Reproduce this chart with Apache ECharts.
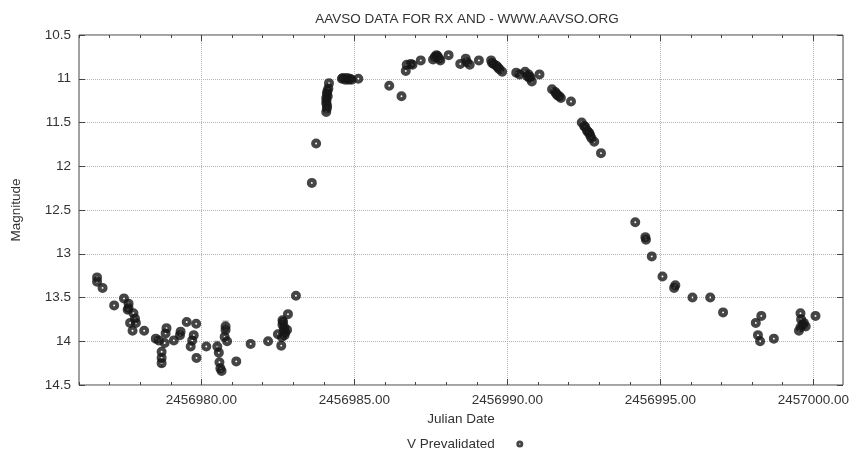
<!DOCTYPE html>
<html>
<head>
<meta charset="utf-8">
<script src="https://cdn.jsdelivr.net/npm/echarts@6/dist/echarts.min.js"></script>
<style>
	html, body { margin: 0; padding: 0; background: #fff; }
	#RxAndChart { width: 852px; height: 450px; }
</style>
</head>
<body>
<div id="RxAndChart"></div>
<script>
	// Julian date of each V observation
	var jd = [
		2456976.59, 2456976.59, 2456976.77, 2456977.15, 2456977.47, 2456977.62, 2456977.62, 2456977.59,
		2456977.78, 2456977.83, 2456977.67, 2456977.86, 2456977.75, 2456978.13, 2456978.51, 2456978.61,
		2456978.80, 2456978.86, 2456978.83, 2456978.70, 2456978.70, 2456978.70, 2456979.10, 2456979.32,
		2456979.30, 2456979.52, 2456979.83, 2456979.75, 2456979.70, 2456979.65, 2456979.84, 2456980.16,
		2456980.52, 2456980.57, 2456980.79, 2456980.79, 2456980.76, 2456980.84, 2456980.59, 2456980.62,
		2456980.66, 2456981.14, 2456981.61, 2456982.18, 2456982.61, 2456982.50, 2456982.65, 2456982.65,
		2456982.69, 2456982.72, 2456982.63, 2456982.83, 2456983.09, 2456982.80, 2456982.67, 2456982.71,
		2456982.74,
		2456983.61, 2456983.75, 2456984.17, 2456984.15, 2456984.10, 2456984.08, 2456984.08, 2456984.10,
		2456984.08, 2456984.12, 2456984.09, 2456984.11, 2456984.13,
		2456984.59, 2456984.70, 2456984.80, 2456984.91, 2456985.13, 2456984.63, 2456984.76, 2456984.86,
		2456986.14, 2456986.54, 2456986.71, 2456986.68, 2456986.84, 2456986.90, 2456987.17, 2456987.63,
		2456987.68, 2456987.77, 2456987.57, 2456987.81, 2456987.69, 2456987.72, 2456988.08, 2456988.46,
		2456988.64, 2456988.68, 2456988.77, 2456989.07, 2456989.47, 2456989.55, 2456989.64, 2456989.74,
		2456989.83, 2456989.50, 2456989.69,
		2456990.29, 2456990.40, 2456990.58, 2456990.65, 2456990.72, 2456990.80, 2456990.69, 2456990.75,
		2456991.05, 2456991.46, 2456991.56, 2456991.64, 2456991.75, 2456991.60, 2456991.70, 2456992.08,
		2456992.43, 2456992.51, 2456992.60, 2456992.68, 2456992.75, 2456992.84, 2456992.54, 2456992.64,
		2456992.71, 2456993.06,
		2456994.18, 2456994.51, 2456994.53, 2456994.72, 2456995.07, 2456995.49, 2456995.45, 2456996.05,
		2456996.63, 2456997.05, 2456998.12, 2456998.30, 2456998.19, 2456998.26, 2456998.71, 2456999.58,
		2456999.60, 2456999.53, 2456999.58, 2456999.66, 2456999.75, 2456999.69, 2457000.07
	];
	// V magnitude, same order as jd
	var mag = [
		13.27, 13.32, 13.39, 13.59, 13.51, 13.57, 13.62, 13.64,
		13.68, 13.74, 13.79, 13.79, 13.88, 13.88, 13.97, 13.99,
		14.02, 13.85, 13.91, 14.12, 14.19, 14.25, 13.99, 13.89,
		13.93, 13.78, 13.80, 13.93, 13.99, 14.06, 14.19, 14.06,
		14.06, 14.13, 13.83, 13.87, 13.95, 14.00, 14.24, 14.31,
		14.34, 14.23, 14.03, 14.00, 14.05, 13.92, 13.76, 13.81,
		13.87, 13.93, 13.95, 13.69, 13.48, 13.87, 13.78, 13.84,
		13.90,
		12.19, 11.74, 11.05, 11.11, 11.17, 11.22, 11.28, 11.34,
		11.38, 11.14, 11.25, 11.31, 11.20,
		11.00, 11.01, 11.01, 11.01, 11.00, 10.99, 10.99, 11.00,
		11.08, 11.20, 10.84, 10.91, 10.83, 10.84, 10.79, 10.75,
		10.73, 10.77, 10.78, 10.79, 10.75, 10.74, 10.73, 10.83,
		10.77, 10.81, 10.84, 10.79, 10.79, 10.83, 10.85, 10.89,
		10.92, 10.82, 10.87,
		10.93, 10.95, 10.92, 10.97, 10.99, 11.03, 10.95, 10.98,
		10.95, 11.12, 11.15, 11.19, 11.22, 11.17, 11.20, 11.26,
		11.50, 11.54, 11.59, 11.62, 11.68, 11.72, 11.55, 11.61,
		11.65, 11.85,
		12.64, 12.81, 12.84, 13.03, 13.26, 13.36, 13.39, 13.50,
		13.50, 13.67, 13.79, 13.71, 13.93, 14.00, 13.97, 13.68,
		13.75, 13.88, 13.84, 13.81, 13.83, 13.79, 13.71
	];
	// the few visible error bars
	var errJd = [2456978.70, 2456980.79, 2456980.52];
	var errLow = [14.21, 13.77, 14.00];
	var errHigh = [14.29, 13.89, 14.12];

	var xMajor = [2456980, 2456985, 2456990, 2456995, 2457000];
	var xMinor = [];
	for (var d = 2456976; d <= 2457000; d++) { xMinor.push(d); }

	var xMin = 2456976.0, xMax = 2457000.97;
	var yMin = 10.5, yMax = 14.5;

	var points = [];
	for (var i = 0; i < jd.length; i++) { points.push([jd[i], mag[i]]); }
	var errData = [];
	for (var k = 0; k < errJd.length; k++) { errData.push([errJd[k], errLow[k], errHigh[k]]); }

	// black disc with a small white centre
	var dotSymbol = 'path://M0,-10A10,10 0 1,1 0,10A10,10 0 1,1 0,-10ZM0,-1.9A1.9,1.9 0 1,0 0,1.9A1.9,1.9 0 1,0 0,-1.9Z';

	var gridLine = { show: true, lineStyle: { color: '#b4b4b4', type: 'dotted', width: 1 } };
	var fs = 13.5;

	var RxAndChart_option = {
		animation: false,
		textStyle: { fontFamily: 'Liberation Sans', color: '#333' },
		title: {
			text: 'AAVSO DATA FOR RX AND - WWW.AAVSO.ORG',
			left: 462, textAlign: 'center', top: 7,
			textStyle: { fontSize: fs, fontWeight: 'normal', color: '#333', fontFamily: 'Liberation Sans' }
		},
		legend: {
			data: ['V Prevalidated'],
			align: 'right',
			left: 402, top: 432,
			itemWidth: 40, itemHeight: 7,
			textStyle: { fontSize: fs, color: '#333', fontFamily: 'Liberation Sans' }
		},
		grid: {
			left: 79, right: 8, top: 35, bottom: 65,
			show: true, borderColor: '#444', borderWidth: 1
		},
		xAxis: [
			{
				type: 'value', position: 'bottom', min: xMin, max: xMax,
				name: 'Julian Date', nameLocation: 'middle', nameGap: 25,
				nameTextStyle: { fontSize: fs, color: '#333' },
				axisLine: { show: false },
				axisTick: { inside: true, length: 6, customValues: xMajor, lineStyle: { color: '#444' } },
				axisLabel: {
					customValues: xMajor, margin: 8, fontSize: fs, color: '#333',
					formatter: function (v) { return v.toFixed(2); }
				},
				splitLine: gridLine
			},
			{
				type: 'value', position: 'bottom', min: xMin, max: xMax,
				axisLine: { show: false },
				axisTick: { inside: true, length: 3, customValues: xMinor, lineStyle: { color: '#444' } },
				axisLabel: { show: false },
				splitLine: { show: false }
			},
			{
				type: 'value', position: 'top', min: xMin, max: xMax,
				axisLine: { show: false },
				axisTick: { inside: true, length: 6, customValues: xMajor, lineStyle: { color: '#444' } },
				axisLabel: { show: false },
				splitLine: { show: false }
			},
			{
				type: 'value', position: 'top', min: xMin, max: xMax,
				axisLine: { show: false },
				axisTick: { inside: true, length: 3, customValues: xMinor, lineStyle: { color: '#444' } },
				axisLabel: { show: false },
				splitLine: { show: false }
			}
		],
		yAxis: [
			{
				type: 'value', position: 'left', inverse: true,
				min: yMin, max: yMax, interval: 0.5,
				name: 'Magnitude', nameLocation: 'middle', nameRotate: 90, nameGap: 56,
				nameTextStyle: { fontSize: fs, color: '#333' },
				axisLine: { show: false },
				axisTick: { inside: true, length: 6, lineStyle: { color: '#444' } },
				axisLabel: { margin: 8, fontSize: fs, color: '#333' },
				splitLine: gridLine
			},
			{
				type: 'value', position: 'right', inverse: true,
				min: yMin, max: yMax, interval: 0.5,
				axisLine: { show: false },
				axisTick: { inside: true, length: 6, lineStyle: { color: '#444' } },
				axisLabel: { show: false },
				splitLine: { show: false }
			}
		],
		series: [
			{
				name: 'errors',
				type: 'custom',
				xAxisIndex: 0, yAxisIndex: 0,
				z: 1,
				silent: true,
				renderItem: function (params, api) {
					var x = api.value(0);
					var lo = api.coord([x, api.value(1)]);
					var hi = api.coord([x, api.value(2)]);
					var w = 3;
					var st = { stroke: '#8a8a8a', lineWidth: 1 };
					return {
						type: 'group',
						children: [
							{ type: 'line', shape: { x1: lo[0], y1: lo[1], x2: hi[0], y2: hi[1] }, style: st },
							{ type: 'line', shape: { x1: lo[0] - w, y1: lo[1], x2: lo[0] + w, y2: lo[1] }, style: st },
							{ type: 'line', shape: { x1: hi[0] - w, y1: hi[1], x2: hi[0] + w, y2: hi[1] }, style: st }
						]
					};
				},
				data: errData
			},
			{
				name: 'V Prevalidated',
				type: 'scatter',
				xAxisIndex: 0, yAxisIndex: 0,
				z: 2,
				symbol: dotSymbol,
				symbolSize: 10,
				itemStyle: { color: '#161616' },
				data: points
			}
		]
	};

	var RxAndChart = echarts.init(document.getElementById('RxAndChart'));
	RxAndChart.setOption(RxAndChart_option, true);
</script>
</body>
</html>
